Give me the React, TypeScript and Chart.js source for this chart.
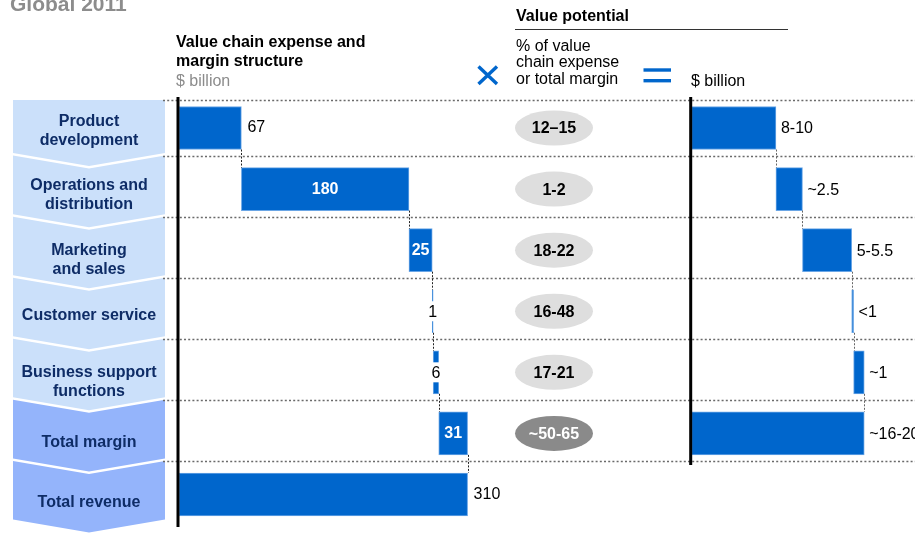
import React, { useEffect, useRef } from 'react';
import { Chart, registerables } from 'chart.js';

Chart.register(...registerables);

// ---------- DATA ----------
const categories = [
  'Product development',
  'Operations and distribution',
  'Marketing and sales',
  'Customer service',
  'Business support functions',
  'Total margin',
  'Total revenue',
];
const categoryLines = [
  ['Product', 'development'],
  ['Operations and', 'distribution'],
  ['Marketing', 'and sales'],
  ['Customer service'],
  ['Business support', 'functions'],
  ['Total margin'],
  ['Total revenue'],
];
const expenseValues = [67, 180, 25, 1, 6];
const totalMargin = 31;
const totalRevenue = 310;
const expenseLabels = ['67', '180', '25', '1', '6', '31', '310'];
const potentialPct = ['12–15', '1-2', '18-22', '16-48', '17-21', '~50-65'];
const potentialValues = [8.75, 2.75, 5.1, 0.2, 1.1];
const potentialTotal = 17.9;
const potentialLabels = ['8-10', '~2.5', '5-5.5', '<1', '~1', '~16-20'];

// ---------- LAYOUT / STYLE ----------
const W = 915;
const H = 534;
const FONT = '"Liberation Sans", Arial, Helvetica, sans-serif';
const BLUE = '#0066cc';
const LEFT_ZERO = 179;
const LEFT_PPU = 0.931;
const RIGHT_ZERO = 691.5;
const RIGHT_PPU = 9.65;
const BAR_T = 43;
const leftLabelStyle = ['out', 'in', 'in', 'mid', 'mid', 'in', 'out'];
const chevronTextShift = [3, 5.5, 9.5, 4, 10, 9.5, 8.5];

function buildLeft(): ([number, number] | null)[] {
  const out: ([number, number] | null)[] = [];
  let c = 0;
  for (const v of expenseValues) {
    out.push([c, c + v]);
    c += v;
  }
  out.push([c, c + totalMargin]);
  out.push([0, totalRevenue]);
  return out;
}
function buildRight(): ([number, number] | null)[] {
  const out: ([number, number] | null)[] = [];
  let c = 0;
  for (const v of potentialValues) {
    out.push([c, c + v]);
    c += v;
  }
  out.push([0, potentialTotal]);
  out.push(null);
  return out;
}

const decor = {
  id: 'decor',
  beforeDatasetsDraw(chart: any) {
    const ctx: CanvasRenderingContext2D = chart.ctx;
    const ys = chart.scales.y;
    const cy = (i: number) => ys.getPixelForValue(i);
    const bounds: number[] = [];
    for (let i = 0; i <= 7; i++) {
      if (i === 0) bounds.push(cy(0) - 28);
      else if (i === 7) bounds.push(cy(6) + 27.5);
      else bounds.push((cy(i - 1) + cy(i)) / 2 - 3);
    }
    ctx.save();
    // headers
    ctx.textBaseline = 'alphabetic';
    ctx.textAlign = 'left';
    ctx.fillStyle = '#8c8c8c';
    ctx.font = `bold 21px ${FONT}`;
    ctx.fillText('Global 2011', 10, 11);
    ctx.fillStyle = '#000';
    ctx.font = `bold 16px ${FONT}`;
    ctx.fillText('Value chain expense and', 176, 47);
    ctx.fillText('margin structure', 176, 66);
    ctx.fillText('Value potential', 516, 21);
    ctx.font = `16px ${FONT}`;
    ctx.fillStyle = '#8c8c8c';
    ctx.fillText('$ billion', 176, 85.5);
    ctx.fillStyle = '#000';
    ctx.fillText('% of value', 516, 50.5);
    ctx.fillText('chain expense', 516, 67);
    ctx.fillText('or total margin', 516, 83.5);
    ctx.fillText('$ billion', 691, 85.5);
    ctx.strokeStyle = '#333';
    ctx.lineWidth = 1;
    ctx.beginPath();
    ctx.moveTo(515, 29.5);
    ctx.lineTo(788, 29.5);
    ctx.stroke();
    // blue x and =
    ctx.strokeStyle = BLUE;
    ctx.lineWidth = 3.4;
    ctx.beginPath();
    ctx.moveTo(478.5, 66.5);
    ctx.lineTo(497, 84);
    ctx.moveTo(497, 66.5);
    ctx.lineTo(478.5, 84);
    ctx.stroke();
    ctx.fillStyle = BLUE;
    ctx.fillRect(643.5, 68.3, 27.5, 3.4);
    ctx.fillRect(643.5, 79, 27.5, 3.4);

    // chevrons
    const x0 = 13, x1 = 165, xc = 89, d = 13;
    for (let i = 0; i < 7; i++) {
      const t = bounds[i];
      const b = bounds[i + 1] - 2.5;
      ctx.beginPath();
      ctx.moveTo(x0, t);
      if (i > 0) ctx.lineTo(xc, t + d);
      ctx.lineTo(x1, t);
      ctx.lineTo(x1, b);
      ctx.lineTo(xc, b + d);
      ctx.lineTo(x0, b);
      ctx.closePath();
      ctx.fillStyle = i < 5 ? '#cbe0fa' : '#94b4fb';
      ctx.fill();
      const lines = categoryLines[i];
      const mid = cy(i) + chevronTextShift[i];
      ctx.fillStyle = '#0e2c66';
      ctx.font = `bold 16px ${FONT}`;
      ctx.textAlign = 'center';
      ctx.textBaseline = 'middle';
      const lh = 19;
      lines.forEach((ln, k) => {
        ctx.fillText(ln, xc, mid + (k - (lines.length - 1) / 2) * lh);
      });
    }

    // dotted lines
    ctx.strokeStyle = '#6a6a6a';
    ctx.lineWidth = 1.6;
    ctx.setLineDash([2, 2.2]);
    for (let i = 0; i < 7; i++) {
      const yy = Math.round(bounds[i]) + 0.5;
      ctx.beginPath();
      ctx.moveTo(163, yy);
      ctx.lineTo(W, yy);
      ctx.stroke();
    }
    ctx.setLineDash([]);

    // pills
    for (let i = 0; i < potentialPct.length; i++) {
      const py = cy(i);
      ctx.beginPath();
      ctx.ellipse(554, py, 39, 17.5, 0, 0, Math.PI * 2);
      const last = i === potentialPct.length - 1;
      ctx.fillStyle = last ? '#8a8a8a' : '#dedede';
      ctx.fill();
      ctx.fillStyle = last ? '#fff' : '#000';
      ctx.font = `bold 16px ${FONT}`;
      ctx.textAlign = 'center';
      ctx.textBaseline = 'middle';
      ctx.fillText(potentialPct[i], 554, py + 1);
    }
    ctx.restore();
  },
  afterDatasetsDraw(chart: any) {
    const ctx: CanvasRenderingContext2D = chart.ctx;
    const ys = chart.scales.y;
    const cy = (i: number) => ys.getPixelForValue(i);
    const lm = chart.getDatasetMeta(0).data;
    const rm = chart.getDatasetMeta(1).data;
    ctx.save();
    // connectors
    ctx.lineWidth = 1;
    ctx.setLineDash([2, 1.5]);
    ctx.strokeStyle = '#222';
    for (let i = 0; i < 6; i++) {
      const x = Math.round(lm[i].x) + 0.5;
      ctx.beginPath();
      ctx.moveTo(x, cy(i) + BAR_T / 2);
      ctx.lineTo(x, cy(i + 1) - BAR_T / 2);
      ctx.stroke();
    }
    ctx.strokeStyle = '#666';
    for (let i = 0; i < 5; i++) {
      const x = Math.round(rm[i].x) + 0.5;
      ctx.beginPath();
      ctx.moveTo(x, cy(i) + BAR_T / 2);
      ctx.lineTo(x, cy(i + 1) - BAR_T / 2);
      ctx.stroke();
    }
    ctx.setLineDash([]);
    // axis lines
    ctx.fillStyle = '#000';
    ctx.fillRect(LEFT_ZERO - 2.5, 97, 3, 430);
    ctx.fillRect(RIGHT_ZERO - 2.3, 97, 3, 368);

    // left labels
    ctx.textBaseline = 'middle';
    for (let i = 0; i < expenseLabels.length; i++) {
      const el = lm[i];
      const st = leftLabelStyle[i];
      const yy = cy(i);
      if (st === 'out') {
        ctx.font = `16px ${FONT}`;
        ctx.fillStyle = '#000';
        ctx.textAlign = 'left';
        ctx.fillText(expenseLabels[i], el.x + 6, yy);
      } else if (st === 'in') {
        ctx.font = `bold 16px ${FONT}`;
        ctx.fillStyle = '#fff';
        ctx.textAlign = 'center';
        ctx.fillText(expenseLabels[i], (el.x + el.base) / 2, yy);
      } else {
        const xm = (el.x + el.base) / 2;
        ctx.fillStyle = '#fff';
        ctx.fillRect(xm - 6, yy - 10, 12, 20);
        ctx.font = `16px ${FONT}`;
        ctx.fillStyle = '#000';
        ctx.textAlign = 'center';
        ctx.fillText(expenseLabels[i], xm, yy + 1);
      }
    }
    // right labels
    ctx.font = `16px ${FONT}`;
    ctx.fillStyle = '#000';
    ctx.textAlign = 'left';
    for (let i = 0; i < potentialLabels.length; i++) {
      ctx.fillText(potentialLabels[i], rm[i].x + 5, cy(i) + 1);
    }
    ctx.restore();
  },
};

export default function App() {
  const ref = useRef<HTMLCanvasElement | null>(null);
  useEffect(() => {
    if (!ref.current) return;
    const chart = new Chart(ref.current, {
      type: 'bar',
      data: {
        labels: categories,
        datasets: [
          {
            label: 'Expense',
            data: buildLeft() as any,
            xAxisID: 'xl',
            backgroundColor: BLUE,
            borderColor: '#6aa6e6',
            borderWidth: 1,
            borderSkipped: false,
            barThickness: BAR_T,
            grouped: false,
          } as any,
          {
            label: 'Potential',
            data: buildRight() as any,
            xAxisID: 'xr',
            backgroundColor: BLUE,
            borderColor: '#6aa6e6',
            borderWidth: 1,
            borderSkipped: false,
            barThickness: BAR_T,
            grouped: false,
          } as any,
        ],
      },
      options: {
        indexAxis: 'y',
        responsive: false,
        animation: false,
        devicePixelRatio: 1,
        layout: { padding: { left: 0, right: 0, top: 97.5, bottom: 9 } },
        plugins: { legend: { display: false }, tooltip: { enabled: false } },
        scales: {
          y: { type: 'category', display: false, offset: true },
          xl: {
            type: 'linear',
            display: false,
            min: -LEFT_ZERO / LEFT_PPU,
            max: (W - LEFT_ZERO) / LEFT_PPU,
          },
          xr: {
            type: 'linear',
            display: false,
            min: -RIGHT_ZERO / RIGHT_PPU,
            max: (W - RIGHT_ZERO) / RIGHT_PPU,
          },
        },
      },
      plugins: [decor],
    });
    return () => chart.destroy();
  }, []);
  return (
    <div style={{ position: 'absolute', left: 0, top: 0, width: W, height: H, background: '#fff' }}>
      <canvas ref={ref} width={W} height={H} style={{ display: 'block', width: W, height: H }} />
    </div>
  );
}
